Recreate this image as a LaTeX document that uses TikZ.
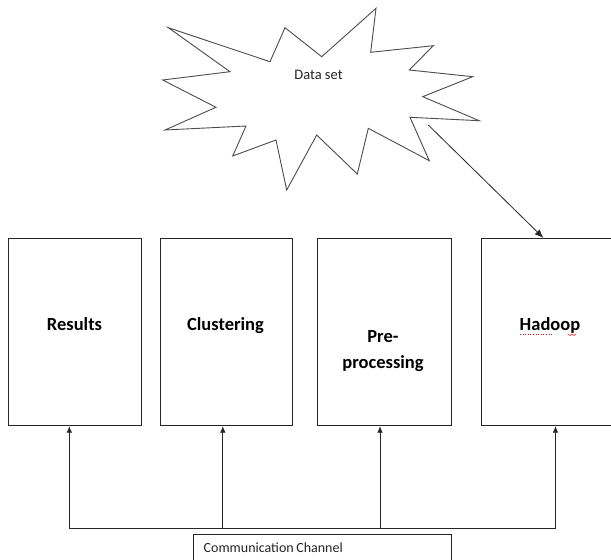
\documentclass[tikz,border=0pt]{standalone}
\usepackage{fontspec}
\setmainfont{Carlito}
\usetikzlibrary{arrows.meta}
\begin{document}
\begin{tikzpicture}[x=1pt,y=-1pt,
  box/.style={draw=black!85,line width=0.9pt,rectangle,inner sep=0pt,minimum width=133pt,minimum height=187.4pt},
  blabel/.style={font=\fontsize{18.5}{20}\selectfont\bfseries,align=center,inner sep=0pt},
  arr/.style={draw=black!85,line width=0.8pt,-{Latex[length=6.5pt,width=5.5pt]}},
  burst/.style={draw=black!70,line width=0.9pt}]
\clip (0,0) rectangle (611,560);
\fill[white] (0,0) rectangle (611,560);
% starburst
\draw[burst] (168.3,27.7) -- (270,61.7) -- (285,27.7) -- (321.7,56.7) -- (376,8.3)
  -- (370.7,52.3) -- (433.3,45.7) -- (409.3,70) -- (472.7,76.7) -- (422.7,96.7)
  -- (479.3,120.7) -- (410,117.3) -- (429.3,160.7) -- (368.3,128.3) -- (357.3,174)
  -- (316.7,135) -- (286.7,190) -- (276,140) -- (232.7,156) -- (246,126)
  -- (165,130) -- (216,107.3) -- (162.7,80) -- (230,71.7) -- cycle;
\node[font=\fontsize{14.5}{16}\selectfont,text=black!85,inner sep=0pt] (ds) at (318.5,75) {Data set};
% boxes
\node[box] (res) at (75.3,332) {};
\node[box,minimum width=132.7pt] (clu) at (226.35,332) {};
\node[box,minimum width=133.3pt] (pre) at (384.35,332) {};
\node[box] (had) at (547.5,332) {};
\node[blabel] (lres) at (74.5,324) {Results};
\node[blabel] (lclu) at (225.5,325.5) {Clustering};
\node[blabel] (lpre) at (383,351.5) {Pre-\\[6pt]processing};
\node[blabel] (lhad) at (550,325.5) {Hadoop};
% spell-check underline
\draw[red,line width=0.6pt,dotted] (520,334.5) -- (552,334.5);
\draw[red,line width=0.5pt] (568,334) -- (570,335.5) -- (572,334) -- (574,335.5) -- (576,334);
% dataset arrow
\coordinate (dsout) at (428.3,125);
\draw[draw=black!85,line width=0.8pt,-{Latex[length=8.5pt,width=7pt]}] (dsout) -- (had.north -| 543.3,0);
% bus
\coordinate (b1) at (69.3,528);
\coordinate (b2) at (222.8,528);
\coordinate (b3) at (380,528);
\coordinate (b4) at (555.5,528);
\draw[draw=black!85,line width=0.8pt] (b1) -- (b4);
\draw[arr] (b1) -- (b1 |- res.south);
\draw[arr] (b2) -- (b2 |- clu.south);
\draw[arr] (b3) -- (b3 |- pre.south);
\draw[arr] (b4) -- (b4 |- had.south);
% communication channel
\node[draw=black!85,line width=0.9pt,rectangle,inner sep=0pt,minimum width=258pt,minimum height=34pt] (cc) at (322,551) {};
\node[anchor=west,font=\fontsize{14}{16}\selectfont,text=black!85,inner sep=0pt] (lcc) at (203.5,548) {Communication\hspace{-0.5pt} Channel};
\end{tikzpicture}
\end{document}
